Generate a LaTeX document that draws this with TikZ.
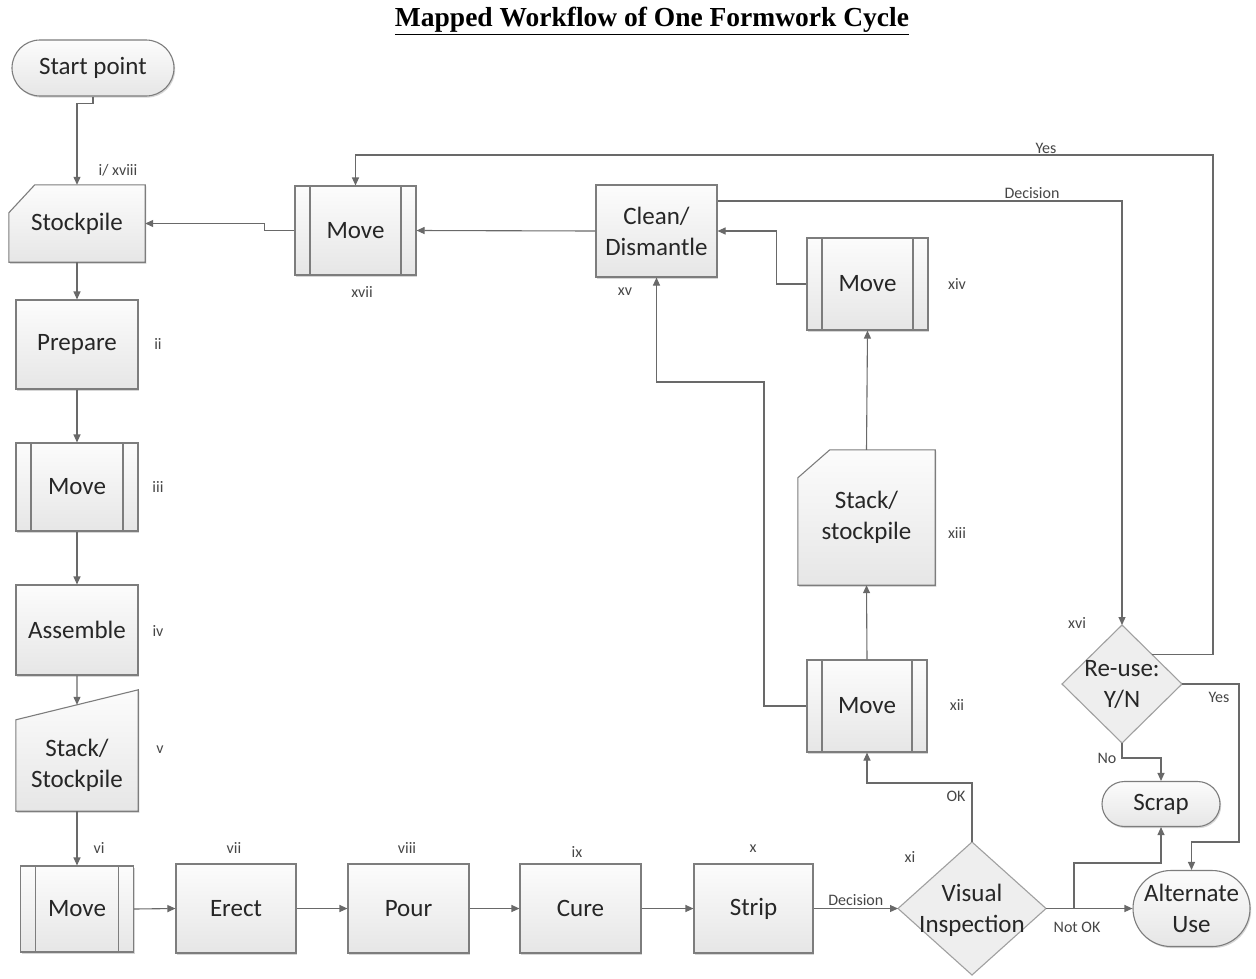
\documentclass[tikz,border=0pt]{standalone}
\usepackage{fontspec}
\setmainfont{Carlito}
\newfontfamily\titlefont{Liberation Serif}
\usetikzlibrary{arrows.meta,shapes.geometric,shapes.misc,shadows,backgrounds,calc}

\definecolor{linecol}{RGB}{105,105,105}
\definecolor{edgecol}{RGB}{125,125,125}
\definecolor{txtcol}{RGB}{38,38,38}
\definecolor{lblcol}{RGB}{70,70,70}
\definecolor{fillA}{RGB}{252,252,252}
\definecolor{fillB}{RGB}{230,230,230}
\definecolor{diafill}{RGB}{238,238,238}
\definecolor{diaedge}{RGB}{160,160,160}

\tikzset{
  softshadow/.style={drop shadow={shadow xshift=1.2pt,shadow yshift=-1.6pt,opacity=0.16,fill=black}},
  shapefill/.style={draw=edgecol,line width=1.1pt,top color=fillA,bottom color=fillB,softshadow},
  bigtext/.style={font=\fontsize{25}{31}\selectfont,text=txtcol,align=center},
  box/.style={rectangle,shapefill,bigtext,inner sep=2pt},
  proc/.style={box,path picture={
      \draw[edgecol,line width=1.1pt]
        ([xshift=15pt]path picture bounding box.north west) -- ([xshift=15pt]path picture bounding box.south west)
        ([xshift=-15pt]path picture bounding box.north east) -- ([xshift=-15pt]path picture bounding box.south east);}},
  term/.style={rounded rectangle,shapefill,bigtext,inner sep=2pt},
  holder/.style={rectangle,bigtext,inner sep=0pt},
  dec/.style={diamond,draw=diaedge,line width=1.1pt,fill=diafill,inner sep=0pt,outer sep=0pt},
  lbl/.style={font=\fontsize{16}{18}\selectfont,text=lblcol,inner sep=1pt},
  arr/.style={draw=linecol,line width=1.1pt,-{Triangle[length=8pt,width=7pt]}},
}

\begin{document}
\begin{tikzpicture}[x=1pt,y=1pt]
\useasboundingbox (0,0) rectangle (1256,-978);

% title
\node (title) at (652,-21) {\titlefont\bfseries\fontsize{27.5}{31}\selectfont\underline{Mapped Workflow of One Formwork Cycle}};

% left column
\node[term, minimum width=166pt, minimum height=56pt] (start) at (93,-68) {Start point};
\node[holder, minimum width=136pt, minimum height=77pt] (stock1) at (77,-223.5) {Stockpile};
\node[box, minimum width=122pt, minimum height=89pt] (prep) at (77,-344.5) {Prepare};
\node[proc, minimum width=122pt, minimum height=88pt] (move3) at (77,-487) {Move};
\node[box, minimum width=122pt, minimum height=90pt] (asm) at (77,-630) {Assemble};
\node[holder, minimum width=122pt, minimum height=91pt] (stack5) at (77,-765.5) {Stack/\\Stockpile};
\node[proc, minimum width=113pt, minimum height=86pt] (move6) at (77,-909) {Move};

% bottom row
\node[box, minimum width=120pt, minimum height=89pt] (erect) at (236,-908.5) {Erect};
\node[box, minimum width=121pt, minimum height=89pt] (pour) at (408.5,-908.5) {Pour};
\node[box, minimum width=121pt, minimum height=89pt] (cure) at (580.5,-908.5) {Cure};
\node[box, minimum width=119pt, minimum height=89pt] (strip) at (753.5,-908.5) {Strip};
\node[dec, minimum width=148pt, minimum height=133pt] (vis) at (972,-908.5) {};
\node[holder] (vistext) at ([yshift=-2pt]vis.center) {Visual\\Inspection};

% right part
\node[term, minimum width=121pt, minimum height=76pt] (alt) at (1191.5,-908.5) {Alternate\\Use};
\node[term, minimum width=122pt, minimum height=45pt] (scrap) at (1161,-804) {Scrap};
\node[dec, minimum width=120pt, minimum height=118pt] (reuse) at (1122,-684) {};
\node[holder] (reusetext) at (reuse.center) {Re-use:\\Y/N};

% return loop
\node[proc, minimum width=120pt, minimum height=92pt] (move12) at (867,-706) {Move};
\node[holder, minimum width=137pt, minimum height=135pt] (stack13) at (866.5,-517.5) {Stack/\\stockpile};
\node[proc, minimum width=121pt, minimum height=92pt] (move14) at (867.5,-284) {Move};
\node[box, minimum width=121pt, minimum height=92pt] (clean) at (656.5,-231) {Clean/\\Dismantle};
\node[proc, minimum width=121pt, minimum height=89pt] (move17) at (355.5,-230.5) {Move};

% outlines of the stockpile shapes, behind their texts
\begin{scope}[on background layer]
  \fill[white] (0,0) rectangle (1256,-978);
  \path[shapefill] ([yshift=-28pt]stock1.north west) -- ([xshift=26pt]stock1.north west)
     -- (stock1.north east) -- (stock1.south east) -- (stock1.south west) -- cycle;
  \path[shapefill] (stack5.north west) -- ([yshift=30pt]stack5.north east)
     -- (stack5.south east) -- (stack5.south west) -- cycle;
  \path[shapefill] ([yshift=-28pt]stack13.north west) -- ([xshift=32pt]stack13.north west)
     -- (stack13.north east) -- (stack13.south east) -- (stack13.south west) -- cycle;
\end{scope}
\coordinate (s5in) at ($(stack5.north west)!0.5!([yshift=30pt]stack5.north east)$);

% step numbers
\node[lbl] (n1) at (118,-170) {i/ xviii};
\node[lbl] (n2) at (158,-344) {ii};
\node[lbl] (n3) at (158,-487) {iii};
\node[lbl] (n4) at (158,-631) {iv};
\node[lbl] (n5) at (160,-750) {v};
\node[lbl] (n6) at (99,-848) {vi};
\node[lbl] (n7) at (234,-848) {vii};
\node[lbl] (n8) at (407,-848) {viii};
\node[lbl] (n9) at (577,-852) {ix};
\node[lbl] (n10) at (753,-849) {x};
\node[lbl] (n11) at (910,-857) {xi};
\node[lbl] (n12) at (957,-705) {xii};
\node[lbl] (n13) at (957,-533) {xiii};
\node[lbl] (n14) at (957,-284) {xiv};
\node[lbl] (n15) at (625,-292) {xv};
\node[lbl] (n16) at (1077,-623) {xvi};
\node[lbl] (n17) at (362,-292) {xvii};

% main flow
\draw[arr] (start.south) -- ++(0,-7) -| (stock1.north);
\draw[arr] (stock1.south) -- (prep.north);
\draw[arr] (prep.south) -- (move3.north);
\draw[arr] (move3.south) -- (asm.north);
\draw[arr] (asm.south) -- (s5in);
\draw[arr] (stack5.south) -- (move6.north);
\draw[arr] (move6.east) -- (erect.west);
\draw[arr] (erect.east) -- (pour.west);
\draw[arr] (pour.east) -- (cure.west);
\draw[arr] (cure.east) -- (strip.west);
\draw[arr] (strip.east) -- node[lbl, above=1pt] (ldec1) {Decision} (vis.west);

% inspection outcomes
\draw[arr] (vis.north) -- ++(0,59) -| (move12.south);
\node[lbl] (lok) at (956,-796) {OK};
\draw[arr] (vis.east) -- (alt.west);
\node[lbl] (lnok) at (1077,-927) {Not OK};
\coordinate (nokbr) at ([xshift=28pt]vis.east);
\draw[arr] (nokbr) -- ++(0,45.5) -| (scrap.south);

% return loop
\draw[arr] (move12.north) -- (stack13.south);
\draw[arr] (stack13.north) -- (move14.south);
\draw[arr] (move14.west) -- ++(-30,0) |- (clean.east);
\coordinate (loopc) at (764,-382);
\draw[arr] (move12.west) -| (loopc) -| (clean.south);
\draw[arr] (clean.west) -- (move17.east);
\draw[arr] (move17.west) -- ++(-30,0) |- (stock1.east);

% re-use decision
\draw[arr] ([yshift=30pt]clean.east) -| (reuse.north);
\node[lbl, fill=white] (ldec2) at (1032,-193) {Decision};
\coordinate (ycorner) at (1213,-155);
\draw[arr] (reuse.north east) -| (ycorner) -| (move17.north);
\node[lbl, fill=white] (lyes1) at (1046,-148) {Yes};
\draw[arr] (reuse.south) -- ++(0,-15) -| (scrap.north);
\node[lbl] (lno) at (1107,-758) {No};
\draw[arr] (reuse.east) -- ++(57,0) |- ([yshift=28pt]alt.north) -- (alt.north);
\node[lbl] (lyes2) at (1219,-697) {Yes};
\end{tikzpicture}
\end{document}
